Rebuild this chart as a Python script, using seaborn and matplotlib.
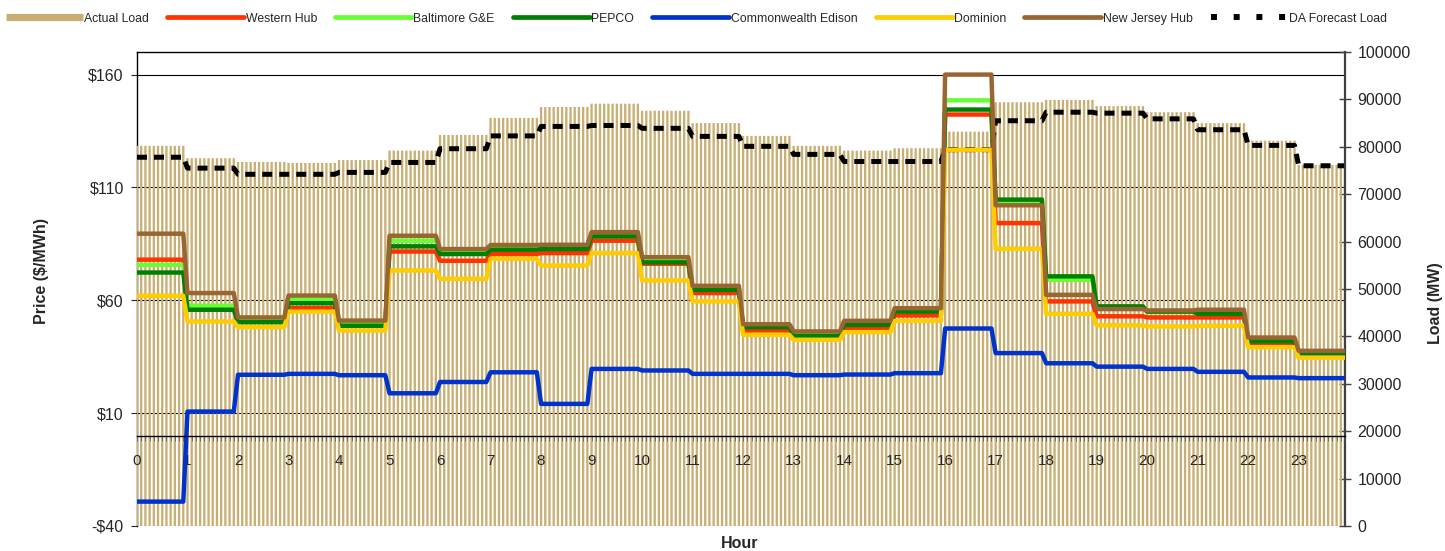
import numpy as np
import matplotlib
matplotlib.use('Agg')
import matplotlib.pyplot as plt
from matplotlib.lines import Line2D
from matplotlib.ticker import MultipleLocator
import seaborn as sns

# hourly values, shown on a 5-minute axis (12 points per hour)
hours = list(range(24))
steps = 12

actual_load = [80200, 77600, 76800, 76600, 77200, 79200, 82500, 86100, 88400, 89100, 87600, 85000,
               82300, 80200, 79200, 79700, 83200, 89400, 89900, 88600, 87300, 85000, 81300, 76200]
da_forecast = [77800, 75500, 74200, 74200, 74600, 76700, 79600, 82300, 84300, 84500, 83900, 82200,
               80100, 78400, 76900, 76900, 79400, 85500, 87300, 87100, 85900, 83600, 80300, 76000]

western_hub = [78.0, 56.6, 51.0, 56.5, 49.3, 81.6, 77.5, 80.5, 80.9, 86.4, 76.2, 63.2,
               46.6, 43.2, 47.7, 53.3, 142.3, 94.2, 59.5, 52.9, 52.4, 52.4, 40.7, 35.5]
baltimore = [75.7, 57.6, 51.3, 60.5, 49.6, 86.4, 81.0, 83.2, 83.3, 89.0, 77.6, 65.3,
             48.6, 44.8, 49.6, 55.5, 148.6, 104.0, 69.1, 56.8, 54.8, 54.5, 42.4, 36.6]
pepco = [72.3, 55.8, 50.3, 58.7, 48.7, 83.9, 80.5, 82.4, 82.7, 88.3, 76.8, 64.6,
         48.1, 44.2, 49.1, 55.0, 144.5, 104.6, 70.6, 57.3, 55.0, 54.0, 41.8, 36.1]
comed = [-29.2, 10.7, 27.0, 27.4, 26.8, 18.8, 23.8, 28.1, 14.1, 29.6, 28.9, 27.4,
         27.4, 26.8, 27.1, 27.7, 47.5, 36.6, 32.1, 30.6, 29.6, 28.3, 25.8, 25.5]
dominion = [62.0, 50.6, 48.1, 55.0, 46.6, 73.2, 69.5, 78.4, 75.4, 80.9, 68.8, 59.5,
            44.7, 42.5, 45.9, 50.9, 126.7, 82.8, 54.0, 48.9, 48.4, 48.7, 39.2, 34.6]
nj_hub = [89.5, 63.2, 52.4, 62.1, 51.0, 88.6, 82.7, 84.5, 84.6, 90.2, 79.1, 66.4,
          49.4, 46.2, 50.9, 56.5, 160.0, 102.1, 62.4, 56.1, 55.5, 55.8, 43.5, 37.6]

price_series = [
    ('Western Hub', western_hub, '#FF3300'),
    ('Baltimore G&E', baltimore, '#66FF33'),
    ('PEPCO', pepco, '#008000'),
    ('Commonwealth Edison', comed, '#0033CC'),
    ('Dominion', dominion, '#FFCC00'),
    ('New Jersey Hub', nj_hub, '#996633'),
]
tan = '#C8AF74'

sns.set_style('white')
plt.rcParams['font.family'] = ['Liberation Sans', 'DejaVu Sans']

idx = np.arange(len(hours) * steps)


def expand(vals):
    return np.repeat(vals, steps)


fig, ax = plt.subplots(figsize=(14.45, 5.51), dpi=100)
fig.subplots_adjust(left=0.0948, right=0.9308, top=0.9056, bottom=0.0454)
ax2 = ax.twinx()   # load
ax3 = ax.twinx()   # price lines on top

# bottom layer: price axis and grid
ax.set_ylim(-40, 170)
ax.set_yticks([-40, 10, 60, 110, 160])
ax.set_yticklabels(['-$40', '$10', '$60', '$110', '$160'])
ax.yaxis.grid(True, color='black', lw=0.8)
ax.xaxis.set_visible(False)
ax.tick_params(axis='y', direction='out', length=4.5, width=0.8, labelsize=11.5, pad=5, left=True)
for s in ['right', 'bottom']:
    ax.spines[s].set_visible(False)
for s in ['left', 'top']:
    ax.spines[s].set_color('black')
    ax.spines[s].set_linewidth(1)
ax.set_ylabel('Price ($/MWh)', fontsize=11.5, fontweight='bold')
ax.yaxis.set_label_coords(-0.073, 0.538)

# load: bars + forecast
sns.barplot(x=idx, y=expand(actual_load), native_scale=True, width=0.55, color=tan,
            saturation=1, errorbar=None, linewidth=0, ax=ax2)
for p in ax2.patches:
    p.set_snap(False)
sns.lineplot(x=idx, y=expand(da_forecast), color='black', lw=3.6, ax=ax2)
ax2.get_lines()[-1].set_dashes([2, 1.4])
ax2.set_ylim(0, 100000)
ax2.set_yticks(range(0, 100001, 10000))
ax2.tick_params(axis='y', direction='inout', length=8, width=1, labelsize=11.5, pad=5,
                color='#404040', right=True)
for s in ['left', 'top', 'bottom']:
    ax2.spines[s].set_visible(False)
ax2.spines['right'].set_color('#404040')
ax2.spines['right'].set_linewidth(1.6)
ax2.set_xlabel('')
ax2.set_ylabel('Load (MW)', fontsize=11.5, fontweight='bold')
ax2.yaxis.set_label_coords(1.069, 0.47)

# price lines
for name, vals, col in price_series:
    sns.lineplot(x=idx, y=expand(vals), color=col, lw=3.2, ax=ax3, solid_joinstyle='round')
ax3.set_ylim(-40, 170)
ax3.yaxis.set_visible(False)
ax3.xaxis.set_visible(True)
for s in ['left', 'top', 'right']:
    ax3.spines[s].set_visible(False)
ax3.spines['bottom'].set_visible(True)
ax3.spines['bottom'].set_position(('data', 0))
ax3.spines['bottom'].set_color('black')
ax3.spines['bottom'].set_linewidth(1)
ax3.set_xlim(0, len(idx) - 1)
ax3.set_xticks(idx[::steps])
ax3.set_xticklabels([str(h) for h in hours])
ax3.xaxis.set_minor_locator(MultipleLocator(1))
ax3.tick_params(axis='x', which='both', direction='out', length=3.5, width=0.5, color='#555555',
                labelsize=11, pad=10, bottom=True)
ax3.set_xlabel('Hour', fontsize=11.5, fontweight='bold')
ax3.xaxis.set_label_coords(0.499, -0.022)

handles = [Line2D([], [], color=tan, lw=5.2, solid_capstyle='butt')]
labels = ['Actual Load']
for name, vals, col in price_series:
    handles.append(Line2D([], [], color=col, lw=3.4, solid_capstyle='round'))
    labels.append(name)
handles.append(Line2D([], [], color='black', lw=4.3, dashes=[1, 2.8]))
labels.append('DA Forecast Load')
fig.legend(handles, labels, ncol=8, loc='center', bbox_to_anchor=(0.482, 0.966), frameon=False,
           fontsize=8.8, handlelength=6.3, handletextpad=0.1, columnspacing=1.5)

fig.savefig('out.png', dpi=100)
